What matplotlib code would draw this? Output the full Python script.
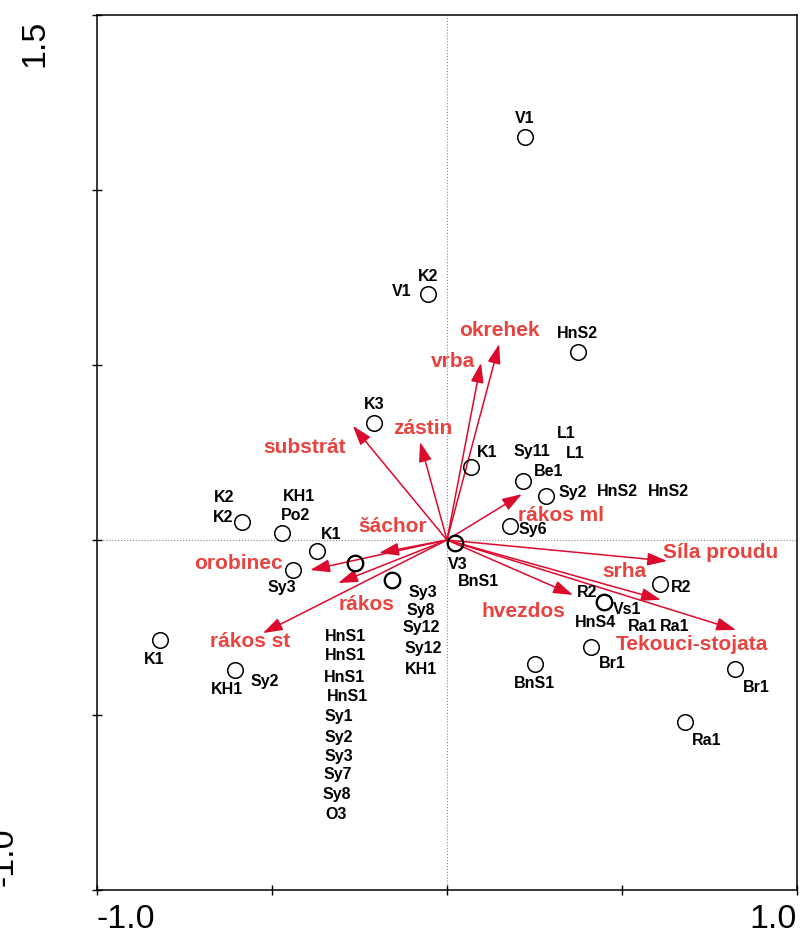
import matplotlib
matplotlib.use("Agg")
import matplotlib.pyplot as plt

plt.rcParams['font.family'] = ['Liberation Sans', 'DejaVu Sans']

# Sample scores (circles) on the first two ordination axes
site_x = [0.223, -0.054, 0.374, -0.209, 0.069, 0.217, 0.283, 0.180, 0.023,
          -0.586, -0.471, -0.371, -0.440, -0.263, -0.157, 0.609, 0.449,
          0.411, 0.251, 0.823, 0.680, -0.820, -0.606]
site_y = [1.151, 0.703, 0.537, 0.334, 0.209, 0.169, 0.126, 0.040, -0.009,
          0.051, 0.020, -0.031, -0.086, -0.066, -0.114, -0.126, -0.177,
          -0.306, -0.354, -0.369, -0.520, -0.286, -0.371]
# Samples sharing one position (drawn with heavier outline)
stacked_x = [0.023, -0.263, -0.157, 0.449]
stacked_y = [-0.009, -0.066, -0.114, -0.177]

# Sample labels and their anchor positions
site_labels = [
    ("V1", 0.223, 1.203), ("K2", -0.054, 0.754), ("V1", -0.129, 0.709),
    ("HnS2", 0.374, 0.589), ("K3", -0.209, 0.386), ("K1", 0.114, 0.251),
    ("Sy11", 0.243, 0.254), ("L1", 0.340, 0.303), ("L1", 0.366, 0.246),
    ("Be1", 0.289, 0.197), ("Sy2", 0.360, 0.137), ("HnS2", 0.486, 0.140),
    ("HnS2", 0.634, 0.140), ("Sy6", 0.246, 0.029), ("V3", 0.031, -0.069),
    ("BnS1", 0.089, -0.120), ("K2", -0.637, 0.120), ("K2", -0.640, 0.063),
    ("KH1", -0.423, 0.123), ("Po2", -0.434, 0.069), ("K1", -0.331, 0.017),
    ("Sy3", -0.471, -0.137), ("Sy3", -0.069, -0.149), ("Sy8", -0.074, -0.200),
    ("Sy12", -0.074, -0.251), ("Sy12", -0.069, -0.311), ("KH1", -0.074, -0.371),
    ("HnS1", -0.289, -0.277), ("HnS1", -0.289, -0.331), ("HnS1", -0.294, -0.394),
    ("HnS1", -0.283, -0.446), ("Sy1", -0.309, -0.503), ("Sy2", -0.309, -0.563),
    ("Sy3", -0.309, -0.620), ("Sy7", -0.311, -0.671), ("Sy8", -0.314, -0.726),
    ("O3", -0.317, -0.783), ("K1", -0.837, -0.340), ("KH1", -0.629, -0.426),
    ("Sy2", -0.520, -0.403), ("R2", 0.400, -0.149), ("R2", 0.669, -0.137),
    ("Vs1", 0.514, -0.200), ("HnS4", 0.423, -0.237), ("Ra1", 0.560, -0.246),
    ("Ra1", 0.651, -0.246), ("Br1", 0.471, -0.354), ("BnS1", 0.251, -0.409),
    ("Br1", 0.883, -0.420), ("Ra1", 0.743, -0.574),
]

# Environmental variables (biplot arrows)
env_names = ["okrehek", "vrba", "zástin", "substrát", "šáchor", "orobinec",
             "rákos", "rákos st", "rákos ml", "Síla proudu", "srha",
             "hvezdos", "Tekouci-stojata"]
env_x = [0.149, 0.097, -0.077, -0.269, -0.194, -0.391, -0.311, -0.526,
         0.214, 0.629, 0.611, 0.360, 0.826]
env_y = [0.560, 0.506, 0.280, 0.326, -0.037, -0.086, -0.123, -0.266,
         0.131, -0.060, -0.171, -0.157, -0.257]
env_label_x = [0.149, 0.017, -0.069, -0.406, -0.154, -0.597, -0.231, -0.563,
               0.326, 0.783, 0.506, 0.217, 0.700]
env_label_y = [0.600, 0.509, 0.320, 0.263, 0.040, -0.066, -0.183, -0.289,
               0.071, -0.037, -0.091, -0.203, -0.300]

W, H = 800, 934
fig = plt.figure(figsize=(W / 100, H / 100), dpi=100)
ax = fig.add_axes([97 / W, 1 - 890 / H, 700 / W, 875 / H])
ax.set_xlim(-1.0, 1.0)
ax.set_ylim(-1.0, 1.5)

for s in ax.spines.values():
    s.set_linewidth(1.1)
    s.set_color('black')
ax.set_xticks([-1.0, -0.5, 0.0, 0.5, 1.0])
ax.set_yticks([-1.0, -0.5, 0.0, 0.5, 1.0, 1.5])
ax.tick_params(direction='inout', length=7, width=1.0, labelbottom=False,
               labelleft=False, top=False, right=False)

ax.axhline(0, color='#8a8a8a', lw=0.8, ls=':', zorder=1)
ax.axvline(0, color='#8a8a8a', lw=0.8, ls=':', zorder=1)

arrow_col = '#DC0A2D'
label_red = '#E8433F'
for name, x, y, lx, ly in zip(env_names, env_x, env_y, env_label_x, env_label_y):
    ax.annotate('', xy=(x, y), xytext=(0, 0),
                arrowprops=dict(arrowstyle='-|>,head_length=1.0,head_width=0.33',
                                mutation_scale=12, color=arrow_col, lw=1.1,
                                shrinkA=0, shrinkB=0), zorder=3)
    ax.text(lx, ly, name, color=label_red, fontsize=15, fontweight='bold',
            ha='center', va='center', zorder=4)

ax.plot(site_x, site_y, 'o', ms=11.2, mfc='none', mec='black', mew=1.1,
        zorder=5)
ax.plot(stacked_x, stacked_y, 'o', ms=11.2, mfc='none', mec='black', mew=1.6,
        zorder=5)

for txt, x, y in site_labels:
    ax.text(x, y, txt, color='black', fontsize=11.5, fontweight='bold',
            ha='center', va='center', zorder=6)

# Axis end labels
fig.text(96 / W, 1 - 928 / H, "-1.0", fontsize=24.5, ha='left', va='baseline')
fig.text(797 / W, 1 - 928 / H, "1.0", fontsize=24.5, ha='right', va='baseline')
fig.text(43 / W, 1 - 43.5 / H, "1.5", fontsize=24.5, rotation=90,
         rotation_mode='anchor', ha='center', va='baseline')
fig.text(13 / W, 1 - 857 / H, "-1.0", fontsize=24.5, rotation=90,
         rotation_mode='anchor', ha='center', va='baseline')

fig.savefig("out.png", dpi=100)
